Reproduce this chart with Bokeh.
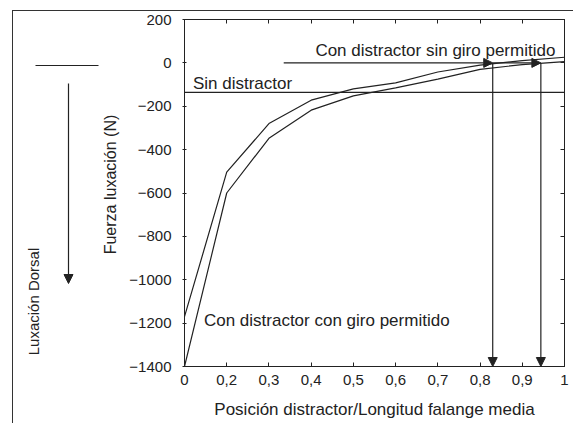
from math import pi
from bokeh.plotting import figure
from bokeh.models import Range1d, LinearAxis, FixedTicker, Label, Arrow, NormalHead, Span
from bokeh.layouts import row
from bokeh.embed import file_html
from bokeh.resources import INLINE

# ---------------- data ----------------
categories = ["0", "0,2", "0,3", "0,4", "0,5", "0,6", "0,7", "0,8", "0,9", "1"]
curva_superior = [-1170, -504, -280, -172, -120, -92, -42, -10, 10, 26]
curva_inferior = [-1400, -600, -348, -218, -152, -115, -75, -30, -8, 6]
y_ticks = [200, 0, -200, -400, -600, -800, -1000, -1200, -1400]
sin_distractor = -136          # horizontal reference level (N)
cruces = [7.3, 8.44]           # positions on the category axis where curves reach 0
flecha_inicio = 2.35           # start of the horizontal arrow (category axis)

FONT = "Liberation Sans"
INK = "#222222"
x_pos = list(range(len(categories)))

def head():
    return NormalHead(size=9, fill_color=INK, line_color=INK, line_width=1)

# ---------------- main chart ----------------
p = figure(width=448, height=412,
           x_range=Range1d(0, len(categories) - 1), y_range=Range1d(-1400, 200),
           output_backend="svg", toolbar_location=None,
           min_border_left=59, min_border_right=9, min_border_top=8, min_border_bottom=57)
p.grid.visible = False
p.outline_line_color = INK
p.outline_line_width = 1

xa = p.xaxis[0]
xa.ticker = FixedTicker(ticks=x_pos)
xa.major_label_overrides = {i: c for i, c in enumerate(categories)}
xa.major_tick_in = 4
xa.major_tick_out = 0
xa.minor_tick_line_color = None
xa.axis_line_color = INK
xa.major_tick_line_color = INK
xa.major_label_standoff = 8
xa.major_label_text_font = FONT
xa.major_label_text_font_size = "15px"
xa.major_label_text_color = INK
xa.axis_label = "Posición distractor/Longitud falange media"
xa.axis_label_text_font = FONT
xa.axis_label_text_font_size = "17px"
xa.axis_label_text_font_style = "normal"
xa.axis_label_text_color = INK
xa.axis_label_standoff = 12

ya = p.yaxis[0]
ya.ticker = FixedTicker(ticks=y_ticks)
ya.major_tick_in = 2
ya.major_tick_out = 2
ya.minor_tick_line_color = None
ya.axis_line_color = INK
ya.major_tick_line_color = INK
ya.major_label_standoff = 11
ya.major_label_text_font = FONT
ya.major_label_text_font_size = "15px"
ya.major_label_text_color = INK

for loc, ticks in (("above", x_pos), ("right", y_ticks)):
    ax = LinearAxis(ticker=FixedTicker(ticks=ticks), major_tick_in=4, major_tick_out=0,
                    minor_tick_line_color=None, major_label_text_font_size="0px",
                    major_label_text_color=None, major_label_standoff=0,
                    axis_line_color=INK, major_tick_line_color=INK)
    p.add_layout(ax, loc)

p.line(x_pos, curva_superior, line_color=INK, line_width=1.2)
p.line(x_pos, curva_inferior, line_color=INK, line_width=1.2)
p.add_layout(Span(location=sin_distractor, dimension="width", line_color=INK, line_width=1.2))

p.add_layout(Arrow(end=head(), x_start=flecha_inicio, y_start=0, x_end=cruces[0], y_end=0,
                   line_color=INK, line_width=1.2))
p.add_layout(Arrow(end=head(), x_start=cruces[0], y_start=0, x_end=cruces[1], y_end=0,
                   line_color=INK, line_width=1.2))
for c in cruces:
    p.add_layout(Arrow(end=head(), x_start=c, y_start=0, x_end=c, y_end=-1400,
                       line_color=INK, line_width=1.2))

for txt, x, y in [("Con distractor sin giro permitido", 3.1, 56),
                  ("Sin distractor", 0.2, -93),
                  ("Con distractor con giro permitido", 0.46, -1186)]:
    p.add_layout(Label(x=x, y=y, text=txt, text_font=FONT, text_font_size="17px",
                       text_color=INK, text_baseline="alphabetic", text_align="left"))

# ---------------- left panel (decoration + y title) ----------------
# Its frame is aligned by the row with the main frame (page y 19..366),
# so its ranges are expressed in page pixels.
left = figure(width=112, height=412, x_range=Range1d(13, 125), y_range=Range1d(366, 19),
              output_backend="svg", toolbar_location=None, min_border=0,
              x_axis_location=None, y_axis_location=None)
left.grid.visible = False
left.outline_line_color = None
left.segment(x0=[35], y0=[65], x1=[98], y1=[65], line_color=INK, line_width=1.2)
left.add_layout(Arrow(end=head(), x_start=68, y_start=83, x_end=68, y_end=283,
                      line_color=INK, line_width=1.2))
left.add_layout(Label(x=33, y=301, text="Luxación Dorsal", angle=pi / 2, text_font=FONT,
                      text_font_size="15px", text_color=INK, text_align="center",
                      text_baseline="middle"))
left.add_layout(Label(x=110, y=184, text="Fuerza luxación (N)", angle=pi / 2, text_font=FONT,
                      text_font_size="16px", text_color=INK, text_align="center",
                      text_baseline="middle"))

layout = row(left, p, margin=(10, 0, 0, 12),
             styles={"border-top": "1px solid #333333", "border-left": "1px solid #333333"})

open("out.html", "w").write(file_html(layout, INLINE))
